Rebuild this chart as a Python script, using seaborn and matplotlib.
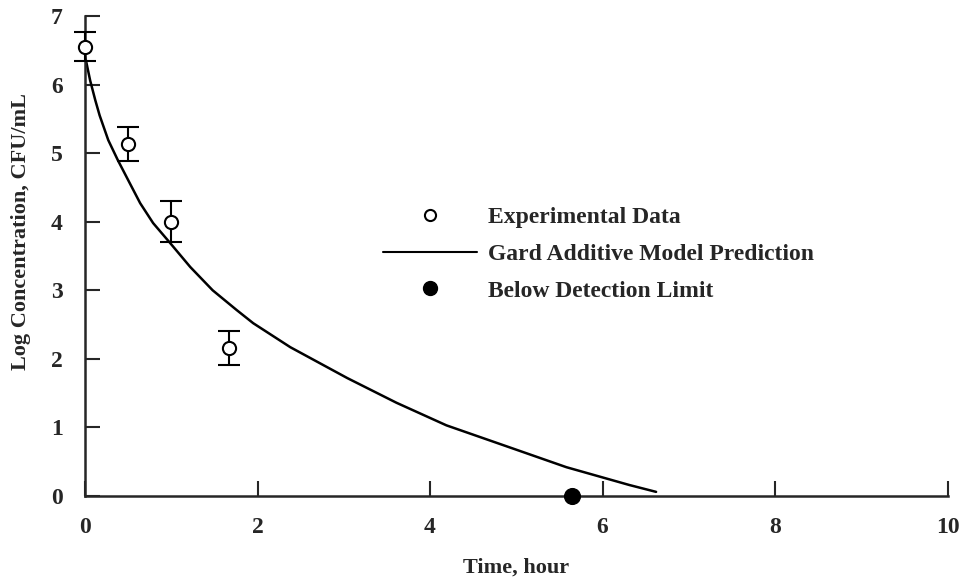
import numpy as np
import pandas as pd
import matplotlib
matplotlib.use('Agg')
import matplotlib.pyplot as plt
import seaborn as sns
from matplotlib.lines import Line2D

sns.set_style('ticks')
plt.rcParams['font.family'] = ['Liberation Serif', 'DejaVu Serif']
plt.rcParams['font.weight'] = 'bold'

# experimental data with error bars
exp_time = [0.0, 0.5, 1.0, 1.67]
exp_logc = [6.55, 5.13, 4.0, 2.16]
exp_err = [0.21, 0.25, 0.30, 0.25]

# below detection limit point
bdl_time = [5.65]
bdl_logc = [0.0]

# Gard additive model prediction curve
model_time = [0.0, 0.06, 0.12, 0.17, 0.27, 0.38, 0.52, 0.64, 0.79, 0.98, 1.22, 1.48, 1.76,
              1.95, 2.38, 3.04, 3.61, 4.19, 4.92, 5.58, 6.31, 6.62]
model_logc = [6.42, 6.06, 5.77, 5.55, 5.19, 4.9, 4.56, 4.27, 3.98, 3.70, 3.34, 3.0, 2.71,
              2.52, 2.17, 1.72, 1.36, 1.03, 0.71, 0.42, 0.16, 0.06]

model = pd.DataFrame({'time': model_time, 'logc': model_logc})
exp = pd.DataFrame({'time': exp_time, 'logc': exp_logc, 'err': exp_err})
bdl = pd.DataFrame({'time': bdl_time, 'logc': bdl_logc})

fig = plt.figure(figsize=(9.7, 5.82), dpi=100)
ax = fig.add_axes([0.0876, 0.1478, 0.8894, 0.8247])

sns.lineplot(data=model, x='time', y='logc', color='black', lw=1.8, ax=ax)
ax.errorbar(exp['time'], exp['logc'], yerr=exp['err'], fmt='none',
            ecolor='black', elinewidth=1.5, capsize=8, capthick=1.5, zorder=3, clip_on=False)
sns.scatterplot(data=exp, x='time', y='logc', marker='o', s=90,
                facecolor='white', edgecolor='black', linewidth=1.5, ax=ax, zorder=4,
                clip_on=False)
sns.scatterplot(data=bdl, x='time', y='logc', marker='o', s=130,
                color='black', edgecolor='black', ax=ax, zorder=5, clip_on=False)

ax.set_xlim(0, 10)
ax.set_ylim(0, 7)
ax.set_xticks([0, 2, 4, 6, 8, 10])
ax.set_yticks([0, 1, 2, 3, 4, 5, 6, 7])
ax.tick_params(direction='in', length=11, width=1.5, labelsize=17)
ax.tick_params(axis='x', pad=15)
ax.tick_params(axis='y', pad=16)
for lab in ax.get_xticklabels() + ax.get_yticklabels():
    lab.set_fontweight('bold')
sns.despine(ax=ax)
ax.spines['left'].set_linewidth(1.8)
ax.spines['bottom'].set_linewidth(1.8)

ax.set_xlabel('Time, hour', fontsize=16, fontweight='bold', labelpad=14)
ax.set_ylabel('Log Concentration, CFU/mL', fontsize=16, fontweight='bold')
ax.yaxis.set_label_coords(-0.062, 0.55)

handles = [
    Line2D([], [], marker='o', ls='none', mfc='white', mec='black', mew=1.5, ms=8),
    Line2D([], [], color='black', lw=1.5),
    Line2D([], [], marker='o', ls='none', color='black', ms=10),
]
labels = ['Experimental Data', 'Gard Additive Model Prediction', 'Below Detection Limit']
ax.legend(handles, labels, loc='center left', bbox_to_anchor=(0.345, 0.504),
          frameon=False, handlelength=4.0, labelspacing=0.65, handletextpad=0.45,
          borderpad=0, borderaxespad=0,
          prop={'family': 'Liberation Serif', 'weight': 'bold', 'size': 17})

fig.savefig('out.png', dpi=100)
